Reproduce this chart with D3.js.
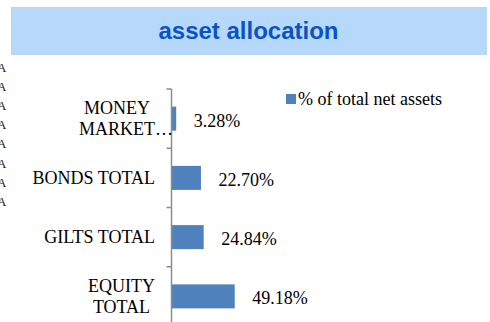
<!DOCTYPE html>
<html>
<head>
<meta charset="utf-8">
<script src="https://cdn.jsdelivr.net/npm/d3@7"></script>
<style>
  html, body { margin: 0; padding: 0; background: #ffffff; }
  svg { display: block; }
</style>
</head>
<body>
<svg id="chart" width="490" height="322"></svg>
<script>
// Asset allocation data
const categories = ["MONEY MARKET…", "BONDS TOTAL", "GILTS TOTAL", "EQUITY TOTAL"];
const values = [3.28, 22.70, 24.84, 49.18];
const valueLabels = ["3.28%", "22.70%", "24.84%", "49.18%"];
const seriesName = "% of total net assets";
const titleText = "asset allocation";
const sideLetters = ["A", "A", "A", "A", "A", "A", "A", "A"];

const svg = d3.select("#chart");
const serif = "'Liberation Serif', 'Times New Roman', serif";
const fontSize = 18;
const barColor = "#4f81bd";
const axisColor = "#8c8c8c";

// Title banner
svg.append("rect")
  .attr("x", 11).attr("y", 7).attr("width", 476).attr("height", 48)
  .attr("fill", "#b6d9fb");
svg.append("text")
  .attr("x", 248.5).attr("y", 38.5)
  .attr("text-anchor", "middle")
  .attr("font-family", "'Liberation Sans', Arial, sans-serif")
  .attr("font-weight", "bold")
  .attr("font-size", 24)
  .attr("fill", "#0a52c6")
  .text(titleText);

// Letters clipped by the left edge
svg.append("g").selectAll("text")
  .data(sideLetters)
  .join("text")
  .attr("x", -3)
  .attr("y", (d, i) => 71.5 + i * 19.2)
  .attr("font-family", serif)
  .attr("font-size", 13)
  .attr("fill", "#222")
  .text(d => d);

// Scales
const x = d3.scaleLinear().domain([0, 100]).range([172, 299.5]);
const y = d3.scaleBand().domain(categories).range([89, 326]).paddingInner(0.595).paddingOuter(0.2975);
const step = y.step();

// Bars
svg.append("g").selectAll("rect")
  .data(values)
  .join("rect")
  .attr("x", x(0))
  .attr("y", (d, i) => y(categories[i]))
  .attr("width", d => x(d) - x(0))
  .attr("height", y.bandwidth())
  .attr("fill", barColor);

// Value labels
svg.append("g").selectAll("text")
  .data(values)
  .join("text")
  .attr("x", d => x(d) + 17.5)
  .attr("y", (d, i) => y(categories[i]) + y.bandwidth() / 2 + 8)
  .attr("font-family", serif)
  .attr("font-size", fontSize)
  .attr("fill", "#000")
  .text((d, i) => valueLabels[i]);

// Category axis line and tick marks at band boundaries
const axisG = svg.append("g");
axisG.append("line")
  .attr("x1", 171.5).attr("x2", 171.5)
  .attr("y1", 89).attr("y2", 326)
  .attr("stroke", axisColor).attr("stroke-width", 1.5);
d3.range(categories.length + 1).forEach(k => {
  const ty = 89 + k * step;
  axisG.append("line")
    .attr("x1", 166.5).attr("x2", 171.5)
    .attr("y1", ty).attr("y2", ty)
    .attr("stroke", axisColor).attr("stroke-width", 1.5);
});

// Category labels, wrapped to the available width and right-aligned as a block
const labelRight = 155;
const maxLabelWidth = 126;
const lineHeight = 20.5;
const measure = svg.append("text")
  .attr("font-family", serif).attr("font-size", fontSize)
  .attr("visibility", "hidden");
function textWidth(s) { measure.text(s); return measure.node().getComputedTextLength(); }

categories.forEach((cat, i) => {
  const words = cat.split(" ");
  const lines = [];
  let cur = "";
  words.forEach(w => {
    const trial = cur ? cur + " " + w : w;
    if (cur && textWidth(trial) > maxLabelWidth) { lines.push(cur); cur = w; }
    else cur = trial;
  });
  if (cur) lines.push(cur);
  // widths ignore a trailing ellipsis, which overflows the block
  const widths = lines.map(l => textWidth(l.replace(/…$/, "")));
  const maxW = d3.max(widths);
  const cx = labelRight - maxW / 2;
  const cy = y(cat) + y.bandwidth() / 2;
  const capH = 11.9;
  const firstBase = cy - ((lines.length - 1) * lineHeight + capH) / 2 + capH;
  lines.forEach((l, j) => {
    svg.append("text")
      .attr("x", cx - widths[j] / 2)
      .attr("y", firstBase + j * lineHeight)
      .attr("font-family", serif)
      .attr("font-size", fontSize)
      .attr("fill", "#000")
      .text(l);
  });
});
measure.remove();

// Legend
const legend = svg.append("g");
legend.append("rect")
  .attr("x", 286).attr("y", 94).attr("width", 10).attr("height", 10)
  .attr("fill", barColor);
legend.append("text")
  .attr("x", 298).attr("y", 105)
  .attr("font-family", serif)
  .attr("font-size", fontSize)
  .attr("fill", "#000")
  .text(seriesName);
</script>
</body>
</html>
